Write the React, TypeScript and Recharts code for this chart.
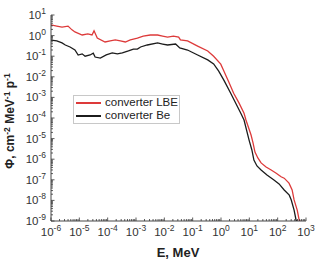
import React from 'react';
import { LineChart, Line, XAxis, YAxis } from 'recharts';

const energyLBE = [1e-6, 1.6e-6, 2.45e-6, 4e-6, 5.5e-6, 7e-6, 1.26e-5, 2e-5, 2.8e-5, 3.3e-5, 4.3e-5, 8.1e-5, 1.23e-4, 1.86e-4, 2.8e-4, 4.2e-4, 6.3e-4, 8.1e-4, 1.12e-3, 1.8e-3, 3.2e-3, 5.8e-3, 8.7e-3, 1.3e-2, 2.1e-2, 3.2e-2, 3.7e-2, 6.6e-2, 0.15, 0.34, 0.55, 0.98, 1.26, 1.9, 2.8, 4.3, 6.5, 7.6, 11.5, 13.5, 15.8, 20, 26, 39, 59, 89, 132, 170, 251, 324, 380, 490, 575, 620];
const fluxLBE = [3.3, 2.9, 2.6, 2.9, 1.9, 1.5, 1.07, 1.2, 1.07, 1.7, 0.76, 0.49, 0.55, 0.62, 0.55, 0.49, 0.62, 0.68, 0.76, 0.95, 1.07, 1.07, 0.95, 0.85, 0.95, 0.85, 0.62, 0.55, 0.31, 0.18, 0.1, 0.041, 0.019, 5.5e-3, 1.6e-3, 5.4e-4, 1.7e-4, 8e-5, 1.5e-5, 6.2e-6, 2.2e-6, 1.15e-6, 6.6e-7, 4.2e-7, 3e-7, 2.1e-7, 1.4e-7, 1.2e-7, 6.9e-8, 3.2e-8, 1.05e-8, 3.4e-9, 1.1e-9, 1e-9];

const energyBe = [1e-6, 1.6e-6, 2.45e-6, 3.2e-6, 4.7e-6, 7e-6, 9.1e-6, 1.26e-5, 1.6e-5, 2.4e-5, 3.1e-5, 3.6e-5, 5.5e-5, 8.9e-5, 1.45e-4, 2.2e-4, 3.3e-4, 5.4e-4, 8.1e-4, 1.12e-3, 1.45e-3, 2.5e-3, 5.8e-3, 8.7e-3, 1.3e-2, 2.5e-2, 3.5e-2, 6.6e-2, 0.15, 0.34, 0.55, 0.83, 1.26, 2.2, 5, 6.5, 9.8, 12.3, 14.5, 18.6, 26, 42, 74, 112, 170, 257, 302, 380, 447, 470];
const fluxBe = [0.61, 0.55, 0.44, 0.35, 0.28, 0.2, 0.114, 0.13, 0.1, 0.115, 0.14, 0.091, 0.081, 0.115, 0.144, 0.13, 0.144, 0.18, 0.22, 0.22, 0.28, 0.35, 0.44, 0.39, 0.35, 0.39, 0.25, 0.2, 0.114, 0.066, 0.042, 0.019, 6.9e-3, 1.6e-3, 1.7e-4, 8e-5, 8.5e-6, 2.8e-6, 9e-7, 4.7e-7, 3e-7, 1.7e-7, 9.8e-8, 6.3e-8, 3.2e-8, 1.8e-8, 1.05e-8, 3.4e-9, 1.1e-9, 1e-9];

const xExponents = [-6, -5, -4, -3, -2, -1, 0, 1, 2, 3];
const yExponents = [-9, -8, -7, -6, -5, -4, -3, -2, -1, 0, 1];
const seriesNames = ['converter LBE', 'converter Be'];
const seriesColors = ['#dd3a3a', '#1c1c1c'];

const dataLBE = energyLBE.map((e, i) => ({ e, v: fluxLBE[i] }));
const dataBe = energyBe.map((e, i) => ({ e, v: fluxBe[i] }));

const buildTicks = (exps: number[]) => {
  const out: number[] = [];
  exps.forEach((p, idx) => {
    out.push(Math.pow(10, p));
    if (idx < exps.length - 1) {
      for (let m = 2; m <= 9; m++) out.push(m * Math.pow(10, p));
    }
  });
  return out;
};
const xTicks = buildTicks(xExponents);
const yTicks = buildTicks(yExponents);

const isMajor = (v: number) => {
  const l = Math.log10(v);
  return Math.abs(l - Math.round(l)) < 1e-6;
};

const FONT = 'Arial, "Liberation Sans", sans-serif';
const TXT = '#333';

const XTick = (props: any) => {
  const { x, y, payload } = props;
  const major = isMajor(payload.value);
  const exp = Math.round(Math.log10(payload.value));
  return (
    <g>
      <line x1={x} x2={x} y1={y} y2={y - (major ? 3.5 : 2)} stroke="#333" strokeWidth={0.8} />
      {major && (
        <text x={x} y={y + 15} textAnchor="middle" fontFamily={FONT} fontSize={11.5} fill={TXT}>
          <tspan>10</tspan>
          <tspan dy={-5} fontSize={8.5}>{exp}</tspan>
        </text>
      )}
    </g>
  );
};

const YTick = (props: any) => {
  const { x, y, payload } = props;
  const major = isMajor(payload.value);
  const exp = Math.round(Math.log10(payload.value));
  return (
    <g>
      <line x1={x} x2={x + (major ? 3.5 : 2)} y1={y} y2={y} stroke="#333" strokeWidth={0.8} />
      {major && (
        <text x={x - 5} y={y + 4} textAnchor="end" fontFamily={FONT} fontSize={11.5} fill={TXT}>
          <tspan>10</tspan>
          <tspan dy={-5} fontSize={8.5}>{exp}</tspan>
        </text>
      )}
    </g>
  );
};

const LegendBox = () => (
  <div
    style={{
      position: 'absolute',
      left: 73,
      top: 95,
      width: 105,
      height: 27,
      border: '1px solid #c8c8c8',
      background: '#fff',
      fontFamily: FONT,
      fontSize: 11.5,
      color: '#222',
      boxSizing: 'content-box',
      paddingTop: 0,
    }}
  >
    {seriesNames.map((n, i) => (
      <div key={n} style={{ display: 'flex', alignItems: 'center', height: 13 }}>
        <div style={{ width: 25, height: 0, borderTop: `2px solid ${seriesColors[i]}`, marginLeft: 2, marginRight: 4 }} />
        <span style={{ lineHeight: '13px', whiteSpace: 'nowrap' }}>{n}</span>
      </div>
    ))}
  </div>
);

export default function App() {
  return (
    <div style={{ position: 'absolute', left: 0, top: 0, width: 324, height: 262, background: '#fff' }}>
      <LineChart width={324} height={262} margin={{ top: 15, right: 18, bottom: 0, left: 0 }}>
        <XAxis
          dataKey="e"
          type="number"
          scale="log"
          domain={[1e-6, 1000]}
          ticks={xTicks}
          interval={0}
          tick={<XTick />}
          tickSize={0}
          tickMargin={0}
          tickLine={false}
          height={41}
          axisLine={{ stroke: '#333', strokeWidth: 0.9 }}
          allowDataOverflow
        />
        <YAxis
          type="number"
          scale="log"
          domain={[1e-9, 10]}
          ticks={yTicks}
          interval={0}
          tick={<YTick />}
          tickSize={0}
          tickMargin={0}
          tickLine={false}
          width={51}
          axisLine={{ stroke: '#333', strokeWidth: 0.9 }}
          allowDataOverflow
        />
        <Line data={dataLBE} dataKey="v" stroke={seriesColors[0]} strokeWidth={1.3} dot={false} isAnimationActive={false} name={seriesNames[0]} />
        <Line data={dataBe} dataKey="v" stroke={seriesColors[1]} strokeWidth={1.3} dot={false} isAnimationActive={false} name={seriesNames[1]} />
        <text x={178} y={257} textAnchor="middle" fontFamily={FONT} fontSize={13} fontWeight="bold" fill="#222">
          E, MeV
        </text>
        <text
          transform="translate(14,121) rotate(-90)"
          textAnchor="middle"
          fontFamily={FONT}
          fontSize={12}
          fontWeight="bold"
          fill="#222"
        >
          <tspan>Φ, cm</tspan>
          <tspan dy={-4} fontSize={8.5}>-2</tspan>
          <tspan dy={4}> MeV</tspan>
          <tspan dy={-4} fontSize={8.5}>-1</tspan>
          <tspan dy={4}> p</tspan>
          <tspan dy={-4} fontSize={8.5}>-1</tspan>
        </text>
      </LineChart>
      <LegendBox />
    </div>
  );
}
